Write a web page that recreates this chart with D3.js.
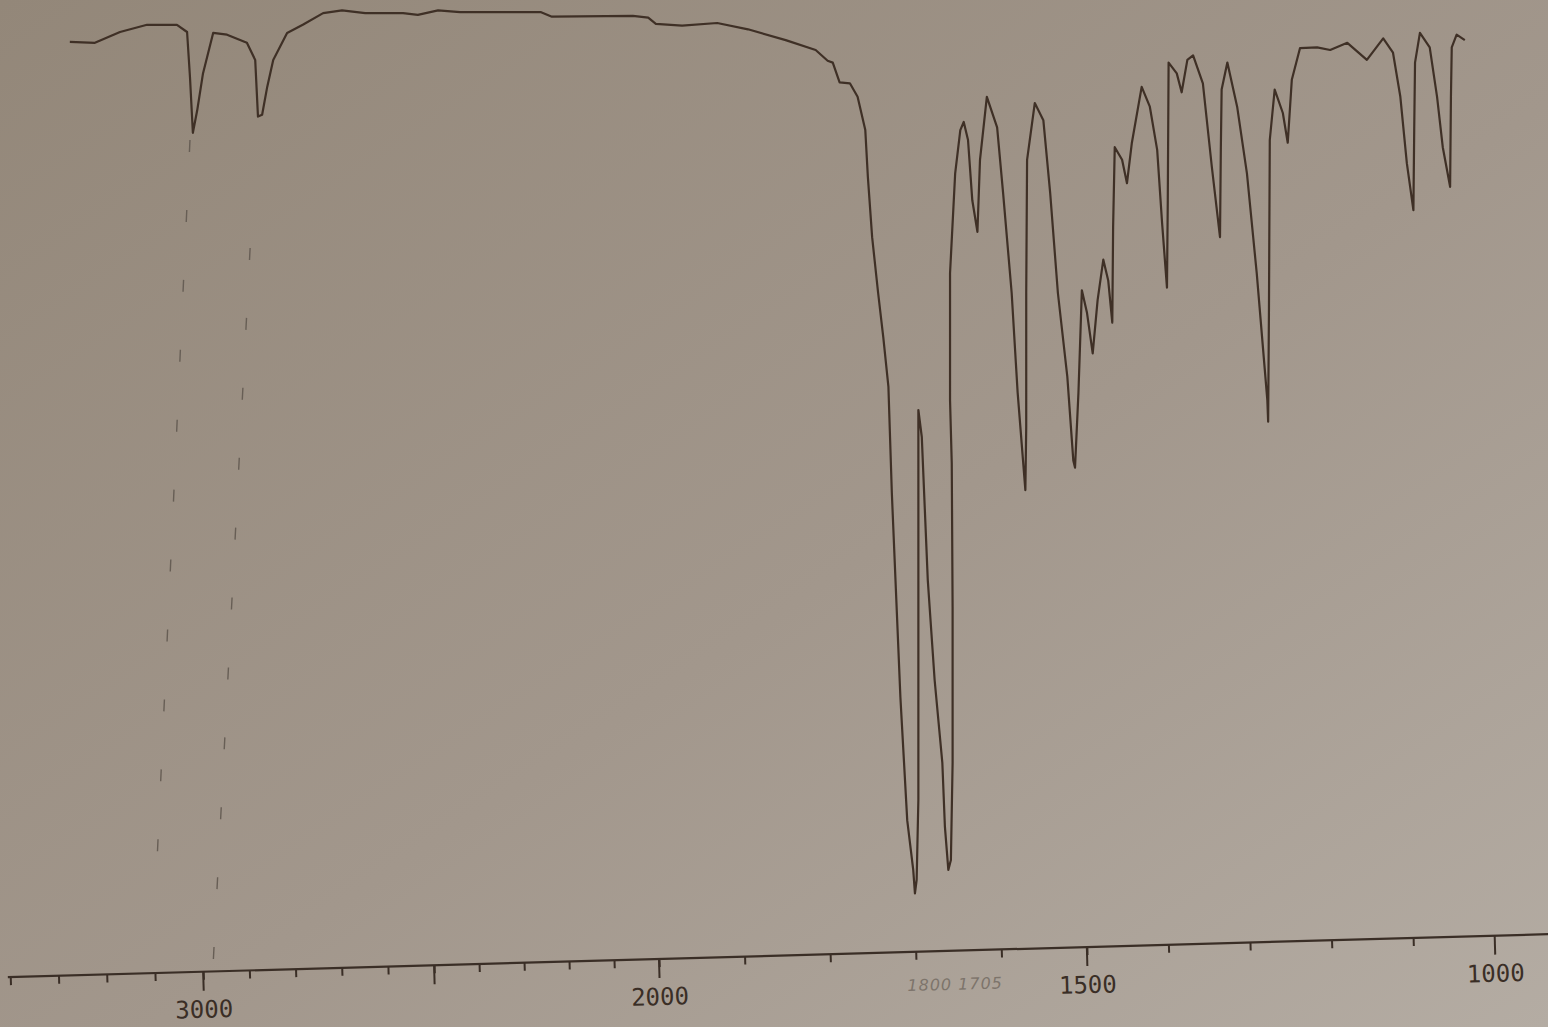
<!DOCTYPE html>
<html>
<head>
<meta charset="utf-8" />
<title>IR spectrum</title>
<script src="https://cdn.jsdelivr.net/npm/d3@7"></script>
<style>
  html, body { margin: 0; padding: 0; overflow: hidden; }
  svg { display: block; }
</style>
</head>
<body>
<svg id="chart" width="1548" height="1027"></svg>
<script>
// trace: wavenumber (cm-1) and % transmittance
var wavenumber = [
  3276, 3224, 3172, 3116, 3054, 3033, 3027, 3021, 3012, 3000,
  2978, 2948, 2905, 2887, 2881, 2872, 2861, 2848, 2818, 2784,
  2740, 2699, 2649, 2567, 2535, 2491, 2442, 2262, 2238, 2058,
  2024, 2007, 1973, 1932, 1896, 1852, 1817, 1803, 1797, 1789,
  1777, 1768, 1759, 1756, 1751, 1744, 1738, 1732, 1728, 1718,
  1710, 1703, 1701, 1699, 1697, 1697, 1697, 1697, 1693, 1686,
  1678, 1669, 1666, 1662, 1659, 1657, 1657, 1658, 1660, 1660,
  1654, 1648, 1644, 1639, 1634, 1628, 1625, 1617, 1605, 1598,
  1588, 1581, 1572, 1571, 1571, 1570, 1561, 1551, 1543, 1534,
  1523, 1516, 1514, 1510, 1506, 1500, 1493, 1487, 1480, 1474,
  1469, 1468, 1466, 1457, 1451, 1445, 1433, 1423, 1414, 1408,
  1402, 1401, 1400, 1390, 1384, 1377, 1370, 1358, 1347, 1337,
  1336, 1335, 1328, 1316, 1304, 1292, 1279, 1278, 1277, 1276,
  1270, 1260, 1254, 1249, 1239, 1218, 1202, 1181, 1157, 1137,
  1125, 1116, 1108, 1100, 1099, 1098, 1092, 1080, 1071, 1064,
  1055, 1054, 1053, 1047, 1037
];
var transmittance = [
  95.9, 95.8, 97.0, 97.8, 97.8, 97.0, 92.0, 85.8, 88.3, 92.4,
  96.9, 96.7, 95.8, 93.9, 87.6, 87.8, 90.9, 93.9, 96.9, 97.8,
  99.1, 99.4, 99.1, 99.1, 98.9, 99.4, 99.2, 99.2, 98.7, 98.8,
  98.6, 97.9, 97.7, 98.0, 97.3, 96.1, 95.0, 93.8, 93.6, 91.4,
  91.3, 89.8, 86.1, 80.9, 74.2, 68.0, 63.1, 57.6, 45.8, 23.1,
  9.4, 3.9, 1.3, 2.8, 11.7, 27.2, 47.2, 55.0, 52.0, 36.1,
  25.0, 15.8, 8.7, 3.9, 5.0, 15.8, 33.1, 49.1, 56.1, 70.2,
  81.3, 86.1, 87.0, 85.0, 78.3, 74.8, 82.8, 89.8, 86.4, 79.1,
  68.0, 56.9, 46.1, 53.1, 68.0, 82.8, 89.1, 87.2, 79.1, 68.0,
  58.7, 49.4, 48.6, 56.9, 68.3, 65.8, 61.3, 67.2, 71.7, 69.4,
  64.7, 75.3, 84.2, 82.8, 80.2, 84.7, 90.9, 88.7, 83.9, 75.8,
  68.6, 78.3, 93.6, 92.4, 90.3, 93.9, 94.4, 91.3, 82.0, 74.2,
  83.9, 90.6, 93.6, 88.7, 81.3, 70.2, 56.1, 53.7, 66.4, 85.0,
  90.6, 88.0, 84.7, 91.7, 95.2, 95.3, 95.0, 95.8, 93.9, 96.3,
  94.7, 89.8, 82.4, 77.2, 86.1, 93.6, 96.9, 95.3, 89.8, 84.2,
  79.8, 89.8, 95.3, 96.7, 96.1
];

// axis ticks
var minorTicks = d3.range(3400, 1000, -100);
var majorTicks = [3000, 2500, 2000, 1500, 1000];
var labelTicks = [3000, 2000, 1500, 1000];

// pencil marks on the paper
var guideTop = [3027, 2898];
var guideBottom = [3099, 2978];
var guideTopT = [85, 73];
var guideBottomT = [0.5, -6.5];
var pencilNote = "1800 1705";
var pencilNoteAt = 1655;

var svg = d3.select("#chart");
var W = 1548, H = 1027;

// paper photo background
var defs = svg.append("defs");
var grad = defs.append("linearGradient")
  .attr("id", "paper")
  .attr("x1", "0").attr("y1", "0").attr("x2", "1").attr("y2", "1");
grad.append("stop").attr("offset", "0%").attr("stop-color", "#938779");
grad.append("stop").attr("offset", "55%").attr("stop-color", "#a2978c");
grad.append("stop").attr("offset", "100%").attr("stop-color", "#b4aca3");
svg.append("rect").attr("width", W).attr("height", H).attr("fill", "url(#paper)");

// the chart paper changes scale at 2000 (plus a little perspective from the photo)
var x = d3.scaleLinear()
  .domain([3400, 3000, 2500, 2000, 1500, 1000])
  .range([10, 203, 434, 659, 1087, 1495]);

var y = d3.scaleLinear()
  .domain([0, 100])
  .range([905, 5]);

// guide dashes
svg.append("g").selectAll("line")
  .data(guideTop)
  .enter()
  .append("line")
  .attr("x1", function (d) { return x(d) })
  .attr("y1", function (d, i) { return y(guideTopT[i]) })
  .attr("x2", function (d, i) { return x(guideBottom[i]) })
  .attr("y2", function (d, i) { return y(guideBottomT[i]) })
  .style("stroke", "#675e55")
  .style("stroke-width", 1.4)
  .style("stroke-dasharray", "12 58");

// spectrum trace
var pts = wavenumber.map(function (w, i) { return [w, transmittance[i]] });
var line = d3.line()
  .x(function (d) { return x(d[0]) })
  .y(function (d) { return y(d[1]) });

svg.append("path")
  .datum(pts)
  .attr("d", line)
  .style("fill", "none")
  .style("stroke", "#3f3026")
  .style("stroke-width", 2.2)
  .style("stroke-linejoin", "round");

// x axis, slightly tilted like on the photo
var axisY = 959;
var ax = svg.append("g")
  .attr("transform", "translate(0," + axisY + ") rotate(-1.6," + x(2000) + ",0)");

ax.call(d3.axisBottom(x).tickValues(minorTicks).tickSize(8).tickFormat(""))
  .call(function (g) { g.select(".domain").remove() });

ax.selectAll(".tick line")
  .style("stroke", "#3a2e26")
  .style("stroke-width", 2);

ax.append("line")
  .attr("x1", x(3405))
  .attr("x2", x(925))
  .style("stroke", "#3a2e26")
  .style("stroke-width", 2.2);

ax.selectAll(".major")
  .data(majorTicks)
  .enter()
  .append("line")
  .attr("class", "major")
  .attr("x1", function (d) { return x(d) })
  .attr("x2", function (d) { return x(d) })
  .attr("y1", 0)
  .attr("y2", 19)
  .style("stroke", "#3a2e26")
  .style("stroke-width", 2);

ax.selectAll(".lbl")
  .data(labelTicks)
  .enter()
  .append("text")
  .attr("class", "lbl")
  .attr("x", function (d) { return x(d) })
  .attr("y", 46)
  .attr("text-anchor", "middle")
  .style("font-family", "DejaVu Sans Mono, monospace")
  .style("font-size", "24px")
  .style("fill", "#3a2e26")
  .text(function (d) { return d });

ax.append("text")
  .attr("x", x(pencilNoteAt))
  .attr("y", 39)
  .attr("text-anchor", "middle")
  .style("font-family", "DejaVu Sans, sans-serif")
  .style("font-size", "16px")
  .style("font-style", "italic")
  .style("letter-spacing", "1px")
  .style("fill", "#7d746b")
  .text(pencilNote);
</script>
</body>
</html>
